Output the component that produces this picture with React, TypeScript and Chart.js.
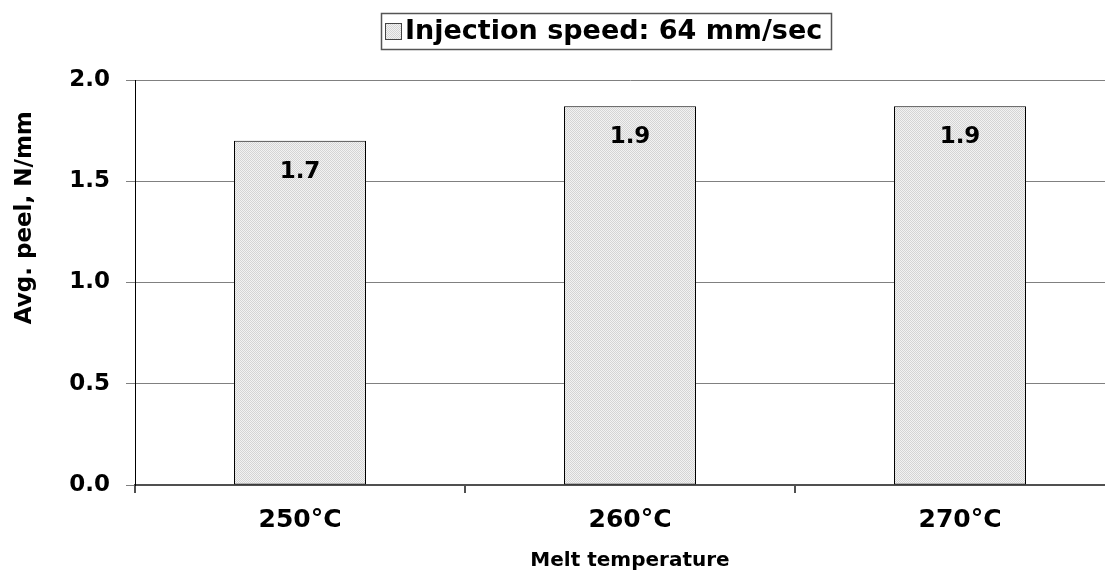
import { useEffect, useRef } from 'react';
import { Chart, registerables } from 'chart.js';

Chart.register(...registerables);

const categories = ['250°C', '260°C', '270°C'];
const peelValues = [1.7, 1.87, 1.87];
const seriesLabel = 'Injection speed: 64 mm/sec';
const yTickLabels = ['0.0', '0.5', '1.0', '1.5', '2.0'];
const yTitle = 'Avg. peel, N/mm';
const xTitle = 'Melt temperature';

const FONT = "'DejaVu Sans', 'Liberation Sans', Arial, sans-serif";

function makePattern(ctx: CanvasRenderingContext2D) {
  const c = document.createElement('canvas');
  c.width = 2;
  c.height = 2;
  const g = c.getContext('2d')!;
  g.fillStyle = '#f2f2f2';
  g.fillRect(0, 0, 2, 2);
  g.fillStyle = '#d4d4d4';
  g.fillRect(0, 0, 1, 1);
  g.fillRect(1, 1, 1, 1);
  return ctx.createPattern(c, 'repeat')!;
}

export default function App() {
  const ref = useRef<HTMLCanvasElement | null>(null);

  useEffect(() => {
    const canvas = ref.current!;
    const ctx = canvas.getContext('2d')!;
    const pattern = makePattern(ctx);
    document.body.style.overflow = 'hidden';

    const labelPlugin = {
      id: 'barLabels',
      afterDatasetsDraw(chart: any) {
        const c = chart.ctx;
        const meta = chart.getDatasetMeta(0);
        c.save();
        c.fillStyle = '#000';
        c.font = `bold 23px ${FONT}`;
        c.textAlign = 'center';
        c.textBaseline = 'middle';
        meta.data.forEach((bar: any, i: number) => {
          c.fillText(peelValues[i].toFixed(1), bar.x, bar.y + 31);
        });
        c.restore();
      },
    };

    const yTitlePlugin = {
      id: 'yTitle',
      afterDraw(chart: any) {
        const c = chart.ctx;
        const area = chart.chartArea;
        const cy = area.top + (area.bottom - area.top) * 0.34;
        c.save();
        c.translate(17, cy);
        c.rotate(-Math.PI / 2);
        c.fillStyle = '#000';
        c.font = `bold 23px ${FONT}`;
        c.textAlign = 'center';
        c.textBaseline = 'middle';
        c.fillText(yTitle, 0, 0);
        c.restore();
      },
    };

    const legendPlugin = {
      id: 'boxLegend',
      afterDraw(chart: any) {
        const c = chart.ctx;
        c.save();
        c.font = `bold 27px ${FONT}`;
        const textW = c.measureText(seriesLabel).width;
        const sw = 16;
        const padL = 4;
        const gap = 4;
        const padR = 9;
        const totalW = padL + sw + gap + textW + padR;
        const centerX = 598;
        const top = 5;
        const h = 36;
        const left = Math.round(centerX - totalW / 2);
        c.fillStyle = '#fff';
        c.fillRect(left, top, totalW, h);
        c.strokeStyle = '#555';
        c.lineWidth = 1.5;
        c.strokeRect(left + 0.5, top + 0.5, Math.round(totalW), h);
        const sy = Math.round(top + h / 2 - sw / 2);
        c.fillStyle = pattern;
        c.fillRect(left + padL, sy, sw, sw);
        c.strokeStyle = '#444';
        c.lineWidth = 1;
        c.strokeRect(left + padL + 0.5, sy + 0.5, sw, sw);
        c.fillStyle = '#000';
        c.textAlign = 'left';
        c.textBaseline = 'middle';
        c.fillText(seriesLabel, left + padL + sw + gap, top + h / 2 + 1);
        c.restore();
      },
    };

    const chart = new Chart(canvas, {
      type: 'bar',
      data: {
        labels: categories,
        datasets: [
          {
            label: seriesLabel,
            data: peelValues,
            backgroundColor: pattern as any,
            borderColor: '#000',
            borderWidth: 1,
            borderSkipped: false,
            barPercentage: 1,
            categoryPercentage: 0.4,
          },
        ],
      },
      options: {
        responsive: false,
        animation: false,
        devicePixelRatio: 1,
        layout: { padding: { left: 0, right: 13, top: 72, bottom: 0 } },
        plugins: { legend: { display: false }, tooltip: { enabled: false } },
        scales: {
          x: {
            grid: {
              offset: true,
              drawOnChartArea: false,
              drawTicks: true,
              tickLength: 8,
              color: '#505050',
              lineWidth: 2,
            },
            border: { display: true, color: '#505050', width: 2 },
            ticks: {
              color: '#000',
              font: { family: FONT, weight: 'bold', size: 25 },
              padding: 12,
              maxRotation: 0,
            },
            title: {
              display: true,
              text: xTitle,
              color: '#000',
              font: { family: FONT, weight: 'bold', size: 20 },
              padding: { top: 0, bottom: 6 },
            },
            afterFit: (s: any) => {
              s.height = 94;
            },
          },
          y: {
            min: 0,
            max: 2,
            ticks: {
              stepSize: 0.5,
              callback: (_v: any, i: number) => yTickLabels[i],
              color: '#000',
              font: { family: FONT, weight: 'bold', size: 23 },
              padding: 16,
            },
            grid: { color: '#808080', lineWidth: 1, tickLength: 9, drawTicks: true },
            border: { display: true, color: '#000', width: 1 },
            title: { display: false },
            afterFit: (s: any) => {
              s.width = 127;
            },
          },
        },
      },
      plugins: [labelPlugin, yTitlePlugin, legendPlugin],
    } as any);

    return () => chart.destroy();
  }, []);

  return (
    <div style={{ width: 1105, height: 571, overflow: 'hidden' }}>
      <canvas ref={ref} width={1130} height={571} style={{ display: 'block', width: 1130, height: 571 }} />
    </div>
  );
}
